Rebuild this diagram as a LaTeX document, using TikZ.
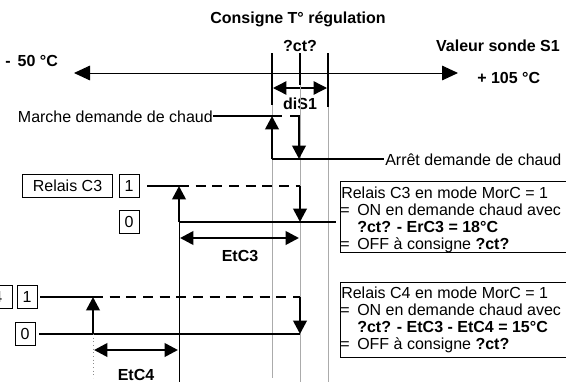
\documentclass[tikz,border=0pt]{standalone}
\usepackage{fontspec}
\setmainfont{Liberation Sans}
\usetikzlibrary{arrows.meta}
\begin{document}
\begin{tikzpicture}[x=0.75pt,y=-0.75pt,
  txt/.style={inner sep=0pt,font=\fontsize{12}{14}\selectfont},
  btxt/.style={inner sep=0pt,font=\fontsize{12}{14}\selectfont\bfseries},
  thickline/.style={line width=2pt},
  midline/.style={line width=1.5pt},
  thinline/.style={line width=0.75pt},
  dashline/.style={line width=2pt,dash pattern=on 7.5pt off 5pt},
  grayline/.style={draw=black!33,line width=0.75pt},
  tip/.style={-{Triangle[length=10pt,width=10pt]}},
  dtip/.style={{Triangle[length=10pt,width=10pt]}-{Triangle[length=10pt,width=10pt]}},
  axtip/.style={{Triangle[length=12pt,width=11pt]}-{Triangle[length=12pt,width=11pt]}},
  namebox/.style={draw,line width=0.6pt,inner sep=0pt,minimum width=67.5pt,minimum height=17.5pt,font=\fontsize{12}{14}\selectfont},
  smallbox/.style={draw,line width=0.6pt,inner sep=0pt,minimum width=15pt,minimum height=17.5pt,font=\fontsize{12}{14}\selectfont},
  textframe/.style={draw,line width=0.6pt,inner sep=0pt,anchor=north west}]
\useasboundingbox (0,0) rectangle (566,382);
\fill[white] (0,0) rectangle (566,382);

% ---- header texts
\node[btxt,anchor=base] (title) at (298,23) {Consigne T° régulation};
\node[btxt,anchor=base] (ct) at (300,51) {?ct?};
\node[btxt,anchor=base east] (sonde) at (560,51) {Valeur sonde S1};
\node[btxt,anchor=base west] (tmin) at (5,66) {-\, 50 °C};
\node[btxt,anchor=base west] (tmax) at (477,83) {+ 105 °C};

% ---- axis
\coordinate (axL) at (74,73);
\coordinate (axR) at (458,73);
\draw[thinline,axtip] (axL) -- (axR);

% ---- bars
\coordinate (b1t) at (272,53); \coordinate (b1b) at (272,105);
\coordinate (b2t) at (300,53); \coordinate (b2b) at (300,85);
\coordinate (b3t) at (328,53); \coordinate (b3b) at (328,107);
\draw[thickline] (b1t) -- (b1b);
\draw[thickline] (b2t) -- (b2b);
\draw[thickline] (b3t) -- (b3b);
\coordinate (dL) at (273,88); \coordinate (dR) at (327,88);
\draw[line width=1pt,dtip] (dL) -- (dR);
\node[btxt,anchor=base] (dis) at (300,109) {diS1};

% ---- gray guide lines
\coordinate (g1) at (272,378); \coordinate (g2) at (300,382); \coordinate (g3) at (328,382);
\draw[grayline] (b1b) -- (g1);
\draw[grayline] (b2b) -- (g2);
\draw[grayline] (b3b) -- (g3);

% ---- heating demand
\node[txt,anchor=base east] (marche) at (213,122) {Marche demande de chaud};
\node[txt,anchor=base west] (arret) at (385,165) {Arrêt demande de chaud};
\coordinate (m1) at (282,116); \coordinate (m2) at (290,116);
\coordinate (m3) at (299,116); \coordinate (m4) at (299,159);
\coordinate (u1) at (272,159); \coordinate (u2) at (272,116);
\coordinate (mL) at (213,116); \coordinate (aR) at (384,159);
\draw[thickline] (mL) -- (m1);
\draw[thickline,tip] (m2) -- (m3) -- (m4);
\draw[thickline,tip] (u1) -- (u2);
\draw[midline] (u1) -- (aR);

% ---- relay C3
\node[namebox] (rc3) at (67.5,186) {Relais C3};
\node[smallbox] (c3one) at (129,186) {1};
\node[smallbox] (c3zero) at (129,222) {0};
\coordinate (c3s) at (147,186); \coordinate (c3a) at (179,186);
\coordinate (c3d) at (300,186); \coordinate (c3e) at (300,222);
\coordinate (c3z) at (179,222); \coordinate (c3zr) at (336,222);
\coordinate (c3bot) at (179,382);
\draw[thickline] (c3s) -- (c3a);
\draw[dashline] (c3a) -- (c3d);
\draw[thickline,tip] (c3d) -- (c3e);
\draw[midline] (c3z) -- (c3zr);
\draw[thickline,tip] (c3z) -- (c3a);
\draw[thinline] (c3z) -- (c3bot);
\coordinate (e3L) at (180,238); \coordinate (e3R) at (299,238);
\draw[thickline,dtip] (e3L) -- (e3R);
\node[btxt,anchor=base] (etc3) at (240,261) {EtC3};

% ---- relay C4
\node[namebox] (rc4) at (-32.5,297) {Relais C4};
\node[smallbox] (c4one) at (27,297) {1};
\node[smallbox] (c4zero) at (25,334) {0};
\coordinate (c4s) at (40,297); \coordinate (c4a) at (93,297);
\coordinate (c4d) at (300,297); \coordinate (c4e) at (300,334);
\coordinate (c4z) at (93,334); \coordinate (c4zl) at (39,334);
\coordinate (c4dot) at (93,378);
\draw[thickline] (c4s) -- (c4a);
\draw[dashline] (c4a) -- (c4d);
\draw[thickline,tip] (c4d) -- (c4e);
\draw[midline] (c4zl) -- (c4e);
\draw[thickline,tip] (c4z) -- (c4a);
\draw[draw=black!45,line width=0.75pt,dotted] (c4z) -- (c4dot);
\coordinate (e4L) at (94,350); \coordinate (e4R) at (178,350);
\draw[thickline,dtip] (e4L) -- (e4R);
\node[btxt,anchor=base] (etc4) at (136,380) {EtC4};

% ---- text frames
\node[textframe,minimum width=180pt,minimum height=53pt] (tb3) at (340,181) {};
\node[txt,anchor=base west] (t31) at (341,198) {Relais C3 en mode MorC = 1};
\node[txt,anchor=base west] (t32a) at (340,215) {=};
\node[txt,anchor=base west] (t32) at (357,215) {ON en demande chaud avec};
\node[btxt,anchor=base west] (t33) at (357,232) {?ct? - ErC3 = 18°C};
\node[txt,anchor=base west] (t34a) at (340,249) {=};
\node[txt,anchor=base west] (t34) at (357,249) {OFF à consigne \textbf{?ct?}};

\node[textframe,minimum width=180pt,minimum height=56pt] (tb4) at (340,282) {};
\node[txt,anchor=base west] (t41) at (341,298) {Relais C4 en mode MorC = 1};
\node[txt,anchor=base west] (t42a) at (340,315) {=};
\node[txt,anchor=base west] (t42) at (357,315) {ON en demande chaud avec};
\node[btxt,anchor=base west] (t43) at (357,332) {?ct? - EtC3 - EtC4 = 15°C};
\node[txt,anchor=base west] (t44a) at (340,349) {=};
\node[txt,anchor=base west] (t44) at (357,349) {OFF à consigne \textbf{?ct?}};
\end{tikzpicture}
\end{document}
